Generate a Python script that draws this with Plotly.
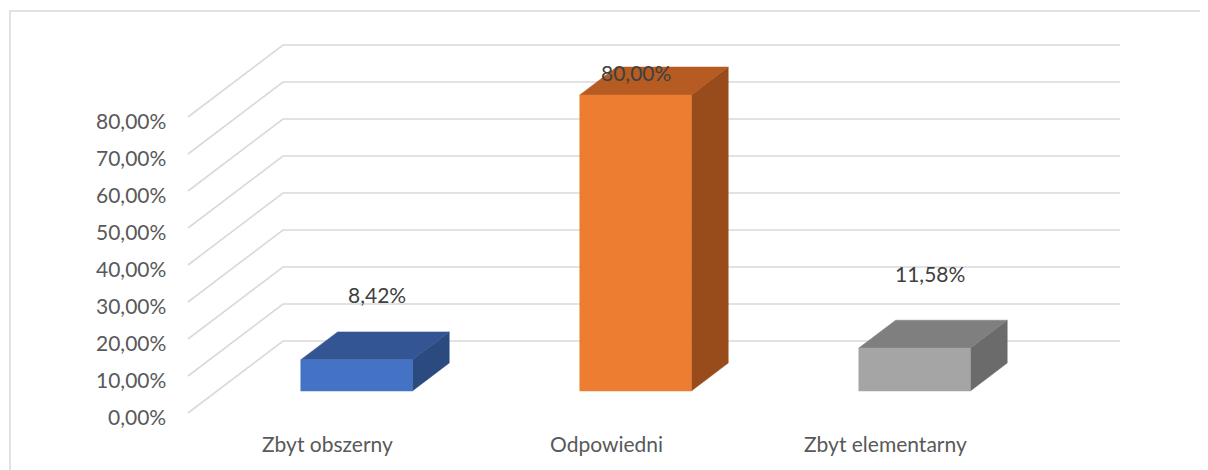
import plotly.graph_objects as go

# ---- data ----
categories = ["Zbyt obszerny", "Odpowiedni", "Zbyt elementarny"]
values = [8.42, 80.00, 11.58]
value_labels = ["8,42%", "80,00%", "11,58%"]
tick_values = [0, 10, 20, 30, 40, 50, 60, 70, 80]
tick_labels = ["0,00%", "10,00%", "20,00%", "30,00%", "40,00%",
               "50,00%", "60,00%", "70,00%", "80,00%"]

# ---- styles / geometry ----
OFF = 8                          # page body margin
W, H = 1208 - OFF, 470 - OFF
PX_X0, CAT_W = 188 - OFF, 279    # front-left of floor, category width (px)
PX_Y0, PX_PER_PCT = 413 - OFF, 3.7
DX = 95 / CAT_W                  # depth vector (category units)
DY = 72 / PX_PER_PCT             # depth vector (percent units)
D0, D1 = 0.306, 0.694            # bar depth span (fraction of depth)
HALF_W = 0.2                     # half bar width (category units)
GRID = "#D9D9D9"
TEXT = "#595959"
FONT = "Lato"
FS = 21
faces = [
    ("#4472C4", "#335593", "#2B4A80"),
    ("#ED7D31", "#B65B22", "#984C1C"),
    ("#A5A5A5", "#7F7F7F", "#6B6B6B"),
]
label_shift = [(2, 51), (-18, 9), (-3, 61)]   # px offsets of data labels

fig = go.Figure()

# gridlines (side wall diagonals + back wall)
gx, gy = [], []
ncat = len(categories)
for v in tick_values:
    gx += [0, DX, ncat + DX, None]
    gy += [v, v + DY, v + DY, None]
fig.add_trace(go.Scatter(x=gx, y=gy, mode="lines",
                         line=dict(color=GRID, width=1.6),
                         hoverinfo="skip", showlegend=False))


def pt(x, y, d):
    return x + d * DX, y + d * DY


for i, v in enumerate(values):
    c = i + 0.5
    xl, xr = c - HALF_W, c + HALF_W
    front = [pt(xl, 0, D0), pt(xr, 0, D0), pt(xr, v, D0), pt(xl, v, D0)]
    top = [pt(xl, v, D0), pt(xr, v, D0), pt(xr, v, D1), pt(xl, v, D1)]
    side = [pt(xr, 0, D0), pt(xr, 0, D1), pt(xr, v, D1), pt(xr, v, D0)]
    for poly, col in zip((side, top, front), (faces[i][2], faces[i][1], faces[i][0])):
        xs = [p[0] for p in poly] + [poly[0][0]]
        ys = [p[1] for p in poly] + [poly[0][1]]
        fig.add_trace(go.Scatter(x=xs, y=ys, mode="lines", fill="toself",
                                 fillcolor=col, line=dict(color=col, width=0.5),
                                 hoverinfo="skip", showlegend=False))
    # data label
    lx, ly = pt(c, v, 0.5)
    fig.add_annotation(x=lx, y=ly, text=value_labels[i], showarrow=False,
                       xanchor="center", yanchor="middle",
                       xshift=label_shift[i][0], yshift=label_shift[i][1],
                       font=dict(family=FONT, size=FS, color="#404040"))

# y tick labels (front-left edge)
for v, t in zip(tick_values, tick_labels):
    fig.add_annotation(x=0, y=v, text=t, showarrow=False,
                       xanchor="right", yanchor="middle", xshift=-20, yshift=-3,
                       font=dict(family=FONT, size=FS, color=TEXT))

# category labels
for i, cat in enumerate(categories):
    fig.add_annotation(x=i + 0.5, y=0, text=cat, showarrow=False,
                       xanchor="center", yanchor="middle", yshift=-30,
                       font=dict(family=FONT, size=FS, color=TEXT))

# chart border
fig.add_shape(type="rect", xref="paper", yref="paper",
              x0=2 / W, x1=1 + 20 / W, y0=-0.05, y1=1 - 3 / H,
              line=dict(color=GRID, width=1.5), layer="below")

fig.update_layout(
    width=W, height=H,
    margin=dict(l=0, r=0, t=0, b=0),
    paper_bgcolor="white", plot_bgcolor="white",
    xaxis=dict(range=[(0 - PX_X0) / CAT_W, (W - PX_X0) / CAT_W],
               visible=False, fixedrange=True),
    yaxis=dict(range=[(PX_Y0 - H) / PX_PER_PCT, PX_Y0 / PX_PER_PCT],
               visible=False, fixedrange=True),
    showlegend=False,
)

fig.write_html("out.html")
